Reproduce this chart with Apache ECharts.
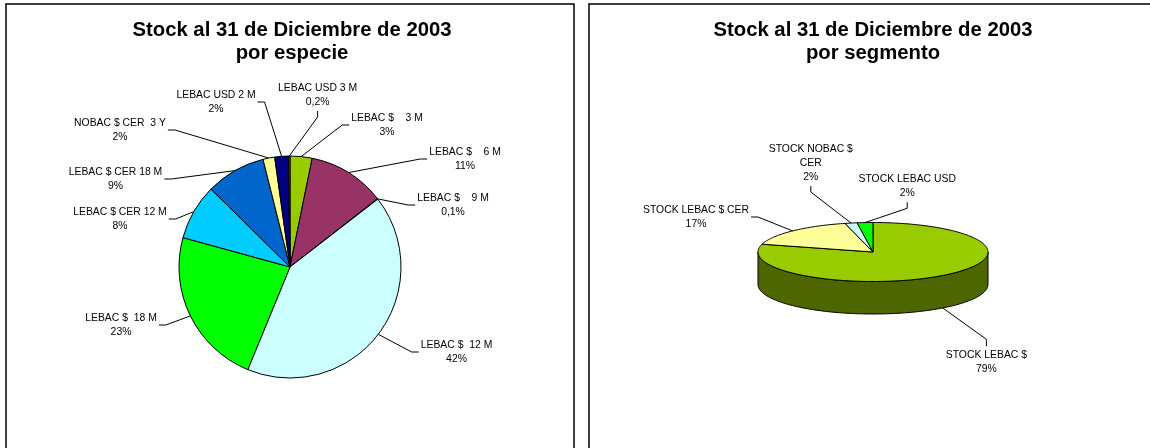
<!DOCTYPE html>
<html lang="es">
<head>
<meta charset="utf-8">
<title>Stock al 31 de Diciembre de 2003</title>
<script src="https://cdn.jsdelivr.net/npm/echarts@6/dist/echarts.min.js"></script>
<style>
  html, body { margin: 0; padding: 0; background: #fff; }
  #chart { width: 1150px; height: 448px; }
</style>
</head>
<body>
<div id="chart"></div>
<script>
// ================= datos =================
const especieNames = ['LEBAC $    3 M', 'LEBAC $    6 M', 'LEBAC $    9 M', 'LEBAC $  12 M', 'LEBAC $  18 M',
  'LEBAC $ CER 12 M', 'LEBAC $ CER 18 M', 'NOBAC $ CER  3 Y', 'LEBAC USD 2 M', 'LEBAC USD 3 M']
const especieValues = [3.2, 11.2, 0.1, 41.6, 23.0, 8.1, 8.7, 1.7, 2.0, 0.2]
const especieColors = ['#99CC00', '#993366', '#FFFFCC', '#CCFFFF', '#00FF00',
  '#00CCFF', '#0066CC', '#FFFF99', '#000080', '#FF00FF']

const segmentoNames = ['STOCK LEBAC $', 'STOCK LEBAC $ CER', 'STOCK NOBAC $ CER', 'STOCK LEBAC USD']
const segmentoValues = [79.1, 16.8, 1.7, 2.2]
const segmentoColors = ['#99CC00', '#FFFF99', '#CCFFFF', '#00FF00']

const titles = ['Stock al 31 de Diciembre de 2003\npor especie', 'Stock al 31 de Diciembre de 2003\npor segmento']

// ================= layout =================
const FONT = "'Liberation Sans', Arial, sans-serif"
const LABEL_SIZE = 10.4
const LABEL_LH = 14
const pie1 = { cx: 290, cy: 267, r: 111 }
const pie2 = { cx: 873, cy: 252, rx: 115, ry: 29.5, depth: 32.5 }

// posición de cada etiqueta respecto al centro + lado donde llega la guía
const especieLabelPos = [
  [97, -142, 'left'],
  [175, -108, 'left'],
  [163, -62, 'left'],
  [166.5, 85, 'left'],
  [-169, 58, 'right'],
  [-170, -48, 'right'],
  [-174.5, -88, 'right'],
  [-170, -137, 'right'],
  [-74, -165, 'right'],
  [27.6, -172, 'bottom']
]
const segmentoLabelPos = [
  [113.4, 110.3, 'top'],
  [-177, -35, 'right'],
  [-62.2, -89, 'bottom', 90],
  [34.2, -65.7, 'bottom']
]

// ================= helpers =================
const sum = (arr) => arr.reduce((a, b) => a + b, 0)

const pctText = (v, total) => {
  const p = v / total * 100
  return p < 1 ? p.toFixed(1).replace('.', ',') + '%' : Math.round(p) + '%'
}

const sliceAngles = (values, i) => {
  const total = sum(values)
  const before = sum(values.slice(0, i))
  return [before / total * Math.PI * 2, (before + values[i]) / total * Math.PI * 2]
}

// color del lateral: mitad de brillo
const darken = (c) => {
  const [r, g, b] = echarts.color.parse(c)
  return 'rgb(' + Math.round(r * 0.5) + ',' + Math.round(g * 0.5) + ',' + Math.round(b * 0.5) + ')'
}

// guía: desde el borde de la porción hasta el costado de la etiqueta
const guide = (s, x, y, w, h, side) => {
  let end, elbow
  if (side === 'left') { end = [x - w / 2 - 2, y]; elbow = [end[0] - 7, y] }
  else if (side === 'right') { end = [x + w / 2 + 2, y]; elbow = [end[0] + 7, y] }
  else if (side === 'bottom') { end = [x, y + h / 2 + 2]; elbow = [x, end[1] + 6] }
  else { end = [x, y - h / 2 - 2]; elbow = [x, end[1] - 7] }
  return [s, elbow, end]
}

const ctx = document.createElement('canvas').getContext('2d')
ctx.font = LABEL_SIZE + 'px ' + FONT
const textWidth = (t) => ctx.measureText(t).width

const wrapWords = (str, maxW) => {
  if (!maxW) return [str]
  const lines = []
  let cur = ''
  str.split(' ').forEach((word) => {
    const next = cur ? cur + ' ' + word : word
    if (cur && textWidth(next) > maxW) { lines.push(cur); cur = word } else { cur = next }
  })
  lines.push(cur)
  return lines
}

// ================= torta izquierda =================
const especieLayout = (p) => {
  const i = p.dataIndex
  const [dx, dy, side] = especieLabelPos[i]
  const x = pie1.cx + dx
  const y = pie1.cy + dy
  const [a0, a1] = sliceAngles(especieValues, i)
  const mid = (a0 + a1) / 2
  const s = [pie1.cx + pie1.r * Math.sin(mid), pie1.cy - pie1.r * Math.cos(mid)]
  return {
    x, y,
    align: 'center',
    verticalAlign: 'middle',
    labelLinePoints: guide(s, x, y, p.labelRect.width, p.labelRect.height, side)
  }
}

// ================= torta 3D derecha =================
const renderSegmento = (params) => {
  const i = params.dataIndex
  const { cx, cy, rx, ry, depth } = pie2
  const color = segmentoColors[i]
  const [a0, a1] = sliceAngles(segmentoValues, i)
  const pt = (a, dy) => [cx + rx * Math.sin(a), cy - ry * Math.cos(a) + dy]
  const arc = (from, to, dy) => {
    const n = Math.max(2, Math.ceil(Math.abs(to - from) / 0.02))
    const pts = []
    for (let k = 0; k <= n; k++) pts.push(pt(from + (to - from) * k / n, dy))
    return pts
  }
  const children = []

  // lateral visible (mitad delantera)
  const s0 = Math.max(a0, Math.PI / 2)
  const s1 = Math.min(a1, Math.PI * 1.5)
  if (s1 > s0) {
    children.push({
      type: 'polygon',
      shape: { points: arc(s0, s1, 0).concat(arc(s1, s0, depth)) },
      style: { fill: darken(color), stroke: '#000', lineWidth: 1 }
    })
  }
  // cara superior
  children.push({
    type: 'polygon',
    shape: { points: [[cx, cy]].concat(arc(a0, a1, 0)) },
    style: { fill: color, stroke: '#000', lineWidth: 1 }
  })

  // etiqueta + guía
  const [dx, dy, side, wrap] = segmentoLabelPos[i]
  const x = cx + dx
  const y = cy + dy
  const lines = wrapWords(segmentoNames[i], wrap)
  lines.push(pctText(segmentoValues[i], sum(segmentoValues)))
  const w = Math.max(...lines.map(textWidth))
  const h = lines.length * LABEL_LH
  const mid = (a0 + a1) / 2
  const s = pt(mid, Math.cos(mid) < 0 ? depth : 0)
  children.push({
    type: 'polyline',
    shape: { points: guide(s, x, y, w, h, side) },
    style: { stroke: '#000', fill: null, lineWidth: 1 }
  })
  children.push({
    type: 'text',
    style: {
      text: lines.join('\n'),
      x, y,
      align: 'center',
      verticalAlign: 'middle',
      fill: '#000',
      fontSize: LABEL_SIZE,
      lineHeight: LABEL_LH,
      fontFamily: FONT
    }
  })
  return { type: 'group', children }
}

// ================= opción =================
const panel = (x) => ({
  type: 'rect',
  z: 0,
  shape: { x, y: 4, width: 568, height: 480 },
  style: { fill: '#fff', stroke: '#000', lineWidth: 1.5 }
})
const titleText = (x, text) => ({
  type: 'text',
  z: 1,
  x, y: 18.5,
  style: {
    text,
    align: 'center',
    verticalAlign: 'top',
    fontSize: 20.3,
    fontWeight: 'bold',
    lineHeight: 23,
    fontFamily: FONT,
    fill: '#000'
  }
})

const chart = echarts.init(document.getElementById('chart'))
const totalEspecie = sum(especieValues)

chart.setOption({
  animation: false,
  backgroundColor: '#fff',
  graphic: [panel(6), panel(589), titleText(292, titles[0]), titleText(873, titles[1])],
  series: [
    {
      type: 'pie',
      center: [pie1.cx, pie1.cy],
      radius: pie1.r,
      startAngle: 90,
      clockwise: true,
      avoidLabelOverlap: false,
      silent: true,
      itemStyle: { borderColor: '#000', borderWidth: 1 },
      label: {
        show: true,
        position: 'outside',
        color: '#000',
        fontSize: LABEL_SIZE,
        lineHeight: LABEL_LH,
        fontFamily: FONT,
        formatter: (p) => p.name + '\n' + pctText(p.value, totalEspecie)
      },
      labelLine: { show: true, length: 10, length2: 8, lineStyle: { color: '#000', width: 1 } },
      labelLayout: especieLayout,
      data: especieNames.map((name, i) => ({
        name,
        value: especieValues[i],
        itemStyle: { color: especieColors[i] }
      }))
    },
    {
      type: 'custom',
      coordinateSystem: 'none',
      silent: true,
      renderItem: renderSegmento,
      data: segmentoValues
    }
  ]
})
</script>
</body>
</html>
